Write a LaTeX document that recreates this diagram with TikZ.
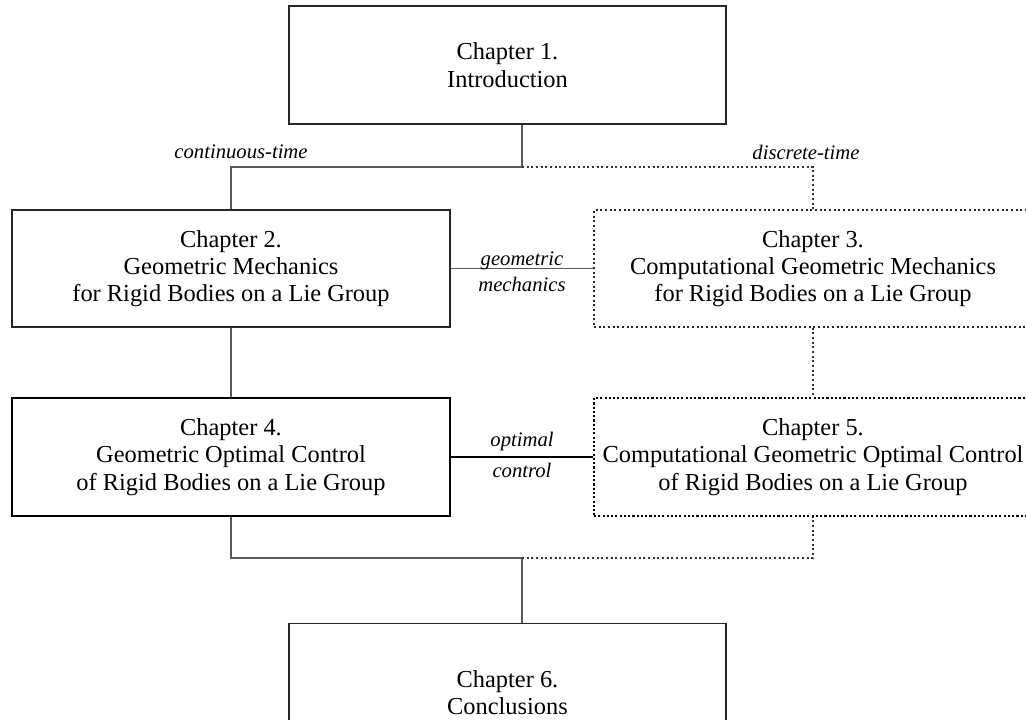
\documentclass[tikz,border=0pt]{standalone}
\usepackage{fontspec}
\setmainfont{Liberation Serif}
\begin{document}
\begin{tikzpicture}[x=0.75pt,y=-0.75pt,
  chap/.style={draw=black!85,line width=0.9pt,align=center,inner sep=0pt,
    font=\fontsize{18.3}{20.5}\selectfont},
  chapthick/.style={chap,draw=black,line width=2.2pt},
  chapdot/.style={chap,dash pattern=on 1.5pt off 2pt},
  chapdotthick/.style={chap,draw=black,line width=2pt,dash pattern=on 1.6pt off 1.6pt},
  conn/.style={draw=black!65,line width=1pt},
  conndot/.style={draw=black!80,line width=1pt,dash pattern=on 1.5pt off 2pt},
  connthick/.style={draw=black,line width=2pt},
  lbl/.style={font=\fontsize{15.5}{17}\selectfont\itshape,inner sep=1pt}]
\useasboundingbox (0,0) rectangle (1026,719);
\begin{scope}
\clip (0,0) rectangle (1026,719);
\node[chap,minimum width=327.75pt,minimum height=88.5pt] (c1) at (507.5,65) {Chapter 1.\\Introduction};
\node[chap,minimum width=328.5pt,minimum height=87.75pt] (c2) at (231,268.5) {Chapter 2.\\Geometric Mechanics\\for Rigid Bodies on a Lie Group};
\node[chapdot,minimum width=328.5pt,minimum height=87.75pt] (c3) at (813,268.5) {Chapter 3.\\Computational Geometric Mechanics\\for Rigid Bodies on a Lie Group};
\node[chapthick,minimum width=328.5pt,minimum height=88.5pt] (c4) at (231,457) {Chapter 4.\\Geometric Optimal Control\\of Rigid Bodies on a Lie Group};
\node[chapdotthick,minimum width=328.5pt,minimum height=88.5pt] (c5) at (813,457) {Chapter 5.\\Computational Geometric Optimal Control\\of Rigid Bodies on a Lie Group};
\node[chap,minimum width=327.75pt,minimum height=103pt] (c6) at (507.5,692.5) {Chapter 6.\\Conclusions};
\end{scope}
\coordinate (j1) at (522,167);
\coordinate (j2) at (522,558);
\draw[conn] (c1.south -| j1) -- (j1) -| (c2.north);
\draw[conndot] (j1) -| (c3.north);
\draw[conn] (c2) -- (c4);
\draw[conndot] (c3) -- (c5);
\draw[conn] (c2.east) -- (c3.west);
\draw[connthick] (c4.east) -- (c5.west);
\draw[conn] (c4.south) |- (j2) -- (c6.north -| j2);
\draw[conndot] (j2) -| (c5.south);
\node[lbl] (lc) at (241,152) {continuous-time};
\node[lbl] (ld) at (806,152) {discrete-time};
\node[lbl] (lg1) at (522,261) {geometric};
\node[lbl] (lg2) at (522,284) {mechanics};
\node[lbl] (lo1) at (522,442) {optimal};
\node[lbl] (lo2) at (522,470) {control};
\end{tikzpicture}
\end{document}
